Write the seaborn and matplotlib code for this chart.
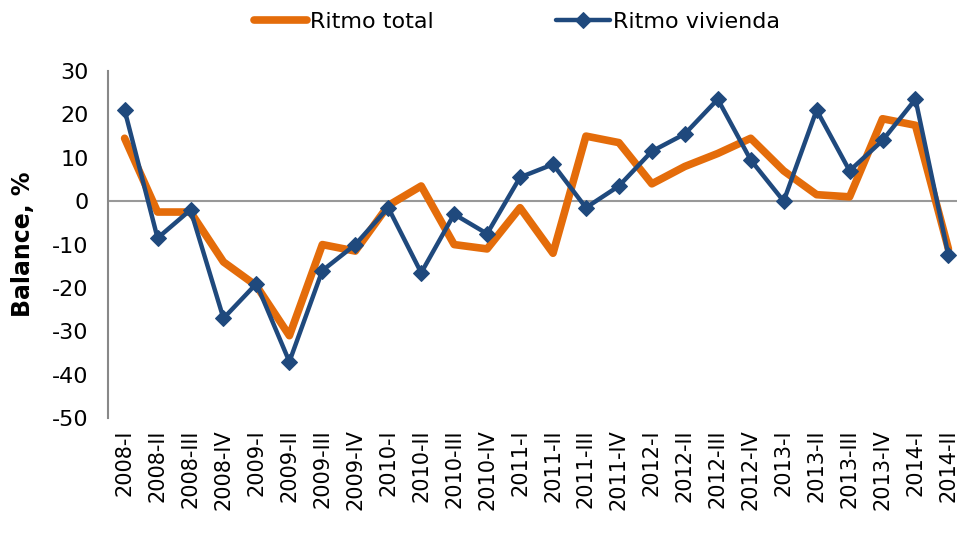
import numpy as np
import pandas as pd
import matplotlib
matplotlib.use('Agg')
import matplotlib.pyplot as plt
import seaborn as sns

# Quarter labels
quarters = ['2008-I', '2008-II', '2008-III', '2008-IV',
            '2009-I', '2009-II', '2009-III', '2009-IV',
            '2010-I', '2010-II', '2010-III', '2010-IV',
            '2011-I', '2011-II', '2011-III', '2011-IV',
            '2012-I', '2012-II', '2012-III', '2012-IV',
            '2013-I', '2013-II', '2013-III', '2013-IV',
            '2014-I', '2014-II']

# Balance values
ritmo_total = [14.5, -2.5, -2.5, -14, -19.5, -31, -10, -11.5,
               -1, 3.5, -10, -11, -1.5, -12, 15, 13.5,
               4, 8, 11, 14.5, 7, 1.5, 1, 19, 17.5, -11]
ritmo_vivienda = [21, -8.5, -2, -27, -19, -37, -16, -10,
                  -1.5, -16.5, -3, -7.5, 5.5, 8.5, -1.5, 3.5,
                  11.5, 15.5, 23.5, 9.5, 0, 21, 7, 14, 23.5, -12.5]

df = pd.DataFrame({'pos': np.arange(len(quarters)),
                   'quarter': quarters,
                   'total': ritmo_total,
                   'vivienda': ritmo_vivienda})

sns.set_style('white')
plt.rcParams['font.family'] = ['DejaVu Sans']
plt.rcParams['axes.unicode_minus'] = False
plt.rcParams['text.color'] = 'black'
plt.rcParams['axes.labelcolor'] = 'black'
plt.rcParams['xtick.color'] = 'black'
plt.rcParams['ytick.color'] = 'black'

fig = plt.figure(figsize=(9.57, 5.34), dpi=100)
ax = fig.add_axes([0.113, 0.217, 0.887, 0.650])

orange = '#E46C0A'
navy = '#1F497D'

sns.lineplot(data=df, x='pos', y='total', ax=ax, color=orange, linewidth=5.5,
             label='Ritmo total')
sns.lineplot(data=df, x='pos', y='vivienda', ax=ax, color=navy, linewidth=3.2,
             marker='D', markersize=8.5, markeredgecolor=navy,
             label='Ritmo vivienda')

ax.axhline(0, color='#999999', linewidth=1.5, zorder=0)

ax.set_ylim(-50, 30)
ax.set_yticks(range(-50, 31, 10))
ax.set_xlim(-0.5, 25.26)
ax.set_xticks(df['pos'])
ax.set_xticklabels(quarters, rotation=90, fontsize=15)
ax.tick_params(axis='y', labelsize=16, length=0, pad=14)
ax.tick_params(axis='x', length=0, pad=8)

ax.set_xlabel('')
ax.set_ylabel('Balance, %', fontsize=17, fontweight='bold', labelpad=12)

for s in ['top', 'right', 'bottom']:
    ax.spines[s].set_visible(False)
ax.spines['left'].set_color('#888888')
ax.spines['left'].set_linewidth(1.5)

handles, labels = ax.get_legend_handles_labels()
ax.get_legend().remove()
fig.legend(handles, labels, loc='center', bbox_to_anchor=(0.54, 0.959), ncol=2,
           frameon=False, fontsize=16, handlelength=2.4,
           columnspacing=5.5, handletextpad=0.15)

plt.savefig('out.png', dpi=100)
